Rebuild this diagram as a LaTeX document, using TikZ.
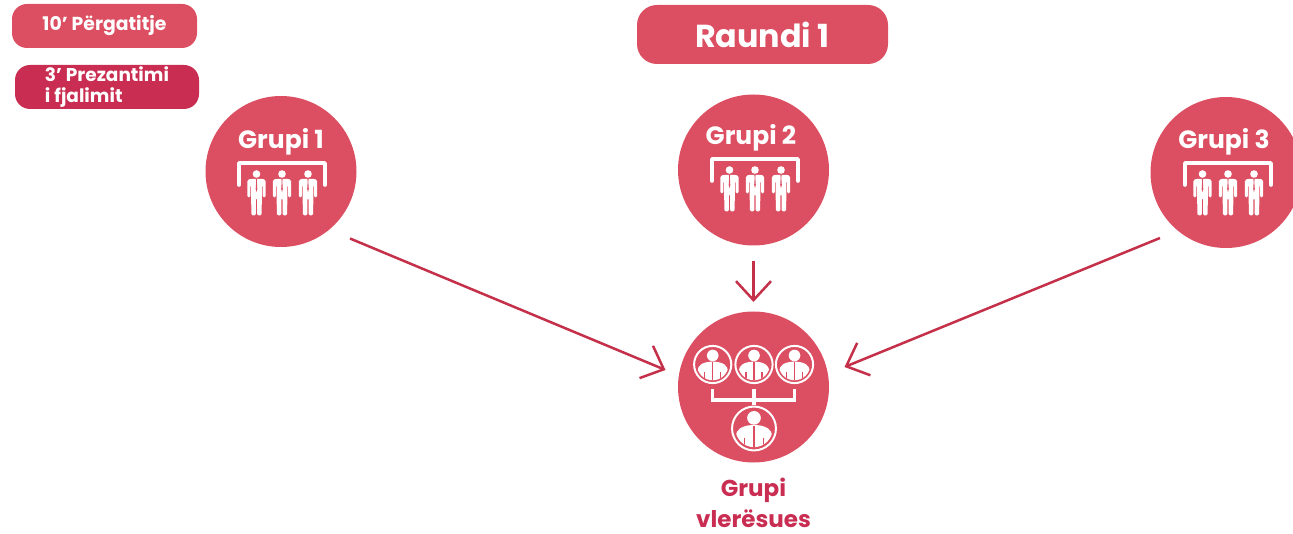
\documentclass[tikz,border=0pt]{standalone}
\usepackage{fontspec}
\setmainfont{Poppins}
\usetikzlibrary{arrows.meta,calc}
\definecolor{roze}{HTML}{DC4E61}
\definecolor{thelle}{HTML}{C92D51}
\definecolor{vije}{HTML}{C4304A}
\tikzset{
  x=1pt,y=-1pt,
  grup/.style={circle,fill=roze,minimum size=151pt,inner sep=0pt},
  etiketa/.style={text=white,font=\fontsize{25}{26}\selectfont\bfseries,inner sep=0pt},
  kuti/.style={rounded corners=15pt,text=white,font=\fontsize{18.8}{21}\selectfont\bfseries,minimum width=184pt,minimum height=44pt,inner sep=0pt},
  shigjete/.style={draw=vije,line width=2.5pt,-{Straight Barb[length=19pt,width=35pt,line width=2.5pt]}},
  kllape/.style={draw=white,line width=3.6pt,line cap=round,line join=round},
  person/.pic={
    \fill[white] (0,0) circle (3.8);
    \fill[white,rounded corners=1.5pt] (-9.2,23.5) -- (-9.2,6) -- (-6,4.8) -- (6,4.8) -- (9.2,6) -- (9.2,23.5) -- (6.2,23.5) -- (6.2,11) -- (5.4,11) -- (5.4,24) -- (5,41.5) -- (0.6,41.5) -- (0.6,24) -- (-0.6,24) -- (-0.6,41.5) -- (-5,41.5) -- (-5.4,24) -- (-5.4,11) -- (-6.2,11) -- (-6.2,23.5) -- cycle;
    \fill[roze] (-0.7,4.8) -- (0.7,4.8) -- (0.3,7.5) -- (0.8,15) -- (0,18) -- (-0.8,15) -- (-0.3,7.5) -- cycle;
  },
  equipe/.pic={
    \draw[kllape] (-43,14) |- (43,-8) -- (43,14);
    \pic at (-25.5,3) {person};
    \pic at (0,3) {person};
    \pic at (26,3) {person};
  },
  vleresues/.pic={
    \begin{scope}[scale=#1]
    \draw[white,line width=2pt] (0,0) circle (18.6);
    \clip (0,0) circle (15.8);
    \fill[white] (0,-9) circle (5.8);
    \fill[white,rounded corners=5pt] (-15.5,20) -- (-15.5,2) -- (-7,-2.8) -- (7,-2.8) -- (15.5,2) -- (15.5,20) -- cycle;
    \draw[roze,line width=1.1pt] (0,-2) -- (0,20) (-8,8) -- (-8,20) (8,8) -- (8,20);
    \end{scope}
  },
}
\begin{document}
\begin{tikzpicture}
\useasboundingbox (0,0) rectangle (1293,534);
\clip (0,0) rectangle (1293,534);

\node[kuti,fill=roze,minimum width=185pt] (kohe1) at (104.5,26) {\raisebox{-3pt}{10’ Përgatitje}};
\node[kuti,fill=thelle,align=left,font=\fontsize{18.5}{21.5}\selectfont\bfseries] (kohe2) at (107,87) {\raisebox{-1pt}{3’ Prezantimi}\\\raisebox{-1pt}{i fjalimit}};
\node[fill=roze,rounded corners=20pt,minimum width=251pt,minimum height=59pt,inner sep=0pt,text=white,font=\fontsize{31.8}{34}\selectfont\bfseries] (raundi) at (762.5,34.5) {Raundi 1};

\node[grup] (g1) at (281,171.5) {};
\node[grup] (g2) at (753.5,170) {};
\node[grup] (g3) at (1226,172.5) {};
\node[grup] (ev) at (753.5,387) {};

\node[etiketa] (t1) at (281,142) {Grupi 1};
\node[etiketa] (t2) at (751,138) {Grupi 2};
\node[etiketa] (t3) at (1224,142) {Grupi 3};

\pic at (282,171) {equipe};
\pic at (755,167) {equipe};
\pic at (1228,171) {equipe};

\pic at (712.7,364.5) {vleresues=1};
\pic at (754,364.5) {vleresues=1};
\pic at (794.5,364.5) {vleresues=1};
\pic at (754,428.5) {vleresues=1.18};
\draw[draw=white,line width=3.4pt] (712.5,389) |- (794.5,400) -- (794.5,389) (754,389) -- (754,405);

\node[text=thelle,align=center,inner sep=0pt,font=\fontsize{23}{30.5}\selectfont\bfseries] (ev-t) at (753.5,503) {Grupi\\vlerësues};

\coordinate (a1) at ($(g1)+(69,67)$);
\coordinate (b1) at ($(ev)+(-88,-17)$);
\coordinate (a2) at ($(g2)+(0,91)$);
\coordinate (b2) at ($(ev)+(0,-85)$);
\coordinate (a3) at ($(g3)+(-66,65.5)$);
\coordinate (b3) at ($(ev)+(91,-20)$);
\draw[shigjete] (a1) -- (b1);
\draw[shigjete] (a2) -- (b2);
\draw[shigjete] (a3) -- (b3);
\end{tikzpicture}
\end{document}
